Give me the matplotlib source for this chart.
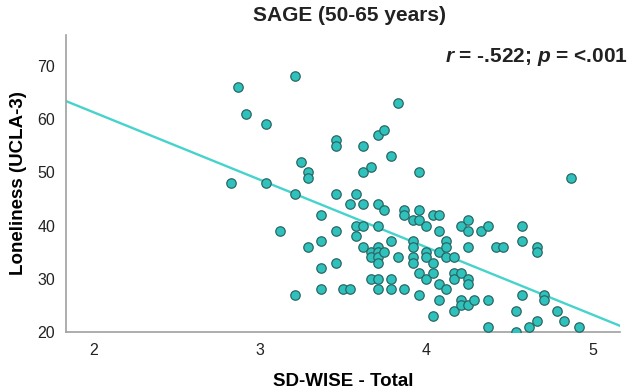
import numpy as np
import matplotlib
matplotlib.use("Agg")
import matplotlib.pyplot as plt

plt.rcParams['font.family'] = ['Liberation Sans', 'DejaVu Sans']
plt.rcParams['mathtext.fontset'] = 'custom'
plt.rcParams['mathtext.it'] = 'Liberation Sans:bold:italic'
plt.rcParams['mathtext.rm'] = 'Liberation Sans:bold'

# SD-WISE total score per participant
wise = [2.83, 2.87, 2.92, 3.04, 3.04, 3.12, 3.21, 3.21, 3.21, 3.25,
        3.29, 3.29, 3.29, 3.37, 3.37, 3.37, 3.37, 3.46, 3.46, 3.46,
        3.46, 3.46, 3.50, 3.54, 3.54, 3.58, 3.58, 3.58, 3.62, 3.62,
        3.62, 3.62, 3.62, 3.67, 3.67, 3.67, 3.67, 3.71, 3.71, 3.71,
        3.71, 3.71, 3.71, 3.71, 3.71, 3.71, 3.75, 3.75, 3.75, 3.79,
        3.79, 3.79, 3.79, 3.83, 3.83, 3.87, 3.87, 3.87, 3.92, 3.92,
        3.92, 3.92, 3.92, 3.96, 3.96, 3.96, 3.96, 3.96, 4.00, 4.00,
        4.00, 4.00, 4.04, 4.04, 4.04, 4.04, 4.08, 4.08, 4.08, 4.08,
        4.08, 4.12, 4.12, 4.12, 4.12, 4.17, 4.17, 4.17, 4.17, 4.21,
        4.21, 4.21, 4.21, 4.25, 4.25, 4.25, 4.25, 4.25, 4.25, 4.29,
        4.33, 4.37, 4.37, 4.37, 4.42, 4.46, 4.54, 4.54, 4.58, 4.58,
        4.58, 4.62, 4.67, 4.67, 4.67, 4.71, 4.71, 4.79, 4.83, 4.87,
        4.92]

# UCLA-3 loneliness score per participant
lonely = [48, 66, 61, 59, 48, 39, 68, 46, 27, 52,
          50, 49, 36, 42, 37, 32, 28, 56, 55, 46,
          39, 33, 28, 44, 28, 46, 40, 38, 55, 50,
          44, 40, 36, 51, 35, 34, 30, 57, 44, 40,
          36, 35, 34, 33, 30, 28, 58, 43, 35, 53,
          37, 30, 28, 63, 34, 43, 42, 28, 41, 37,
          36, 34, 33, 50, 43, 41, 31, 27, 40, 35,
          34, 30, 42, 33, 31, 23, 42, 39, 35, 29,
          26, 37, 36, 34, 28, 34, 31, 30, 24, 40,
          31, 26, 25, 41, 39, 36, 30, 29, 25, 26,
          39, 40, 26, 21, 36, 36, 24, 20, 40, 37,
          27, 21, 36, 35, 22, 27, 26, 24, 22, 49,
          21]

x_ticks = [2, 3, 4, 5]
y_ticks = [20, 30, 40, 50, 60, 70]

x = np.array(wise)
y = np.array(lonely)

fig = plt.figure(figsize=(6.36, 3.92), dpi=100)
ax = fig.add_axes([0.104, 0.153, 0.871, 0.758])

# Linear fit line across the full x range
slope, intercept = np.polyfit(x, y, 1)
xl = np.array([1.836, 5.167])
ax.plot(xl, slope * xl + intercept, color='#45d3cc', lw=1.7, zorder=2)

ax.scatter(x, y, s=46, facecolor='#2fc2bd', edgecolor='#2b6664', linewidth=0.9, zorder=3)

ax.set_xlim(1.836, 5.167)
ax.set_ylim(20, 75.8)
ax.set_xticks(x_ticks)
ax.set_yticks(y_ticks)
ax.tick_params(length=0, labelsize=11.5, colors='#222222', pad=8)

for s in ['top', 'right']:
    ax.spines[s].set_visible(False)
for s in ['left', 'bottom']:
    ax.spines[s].set_color('#a0a0a0')
    ax.spines[s].set_linewidth(1.2)

ax.set_xlabel('SD-WISE - Total', fontsize=13.5, fontweight='bold', labelpad=11)
ax.set_ylabel('Loneliness (UCLA-3)', fontsize=13.5, fontweight='bold', labelpad=7)
fig.text(0.55, 0.96, 'SAGE (50-65 years)', fontsize=15, fontweight='bold',
         ha='center', va='center', color='#222222')
fig.text(0.987, 0.855, r'$r$ = -.522; $p$ = <.001', fontsize=15, fontweight='bold',
         ha='right', va='center', color='#222222')

fig.savefig('out.png', dpi=100)
